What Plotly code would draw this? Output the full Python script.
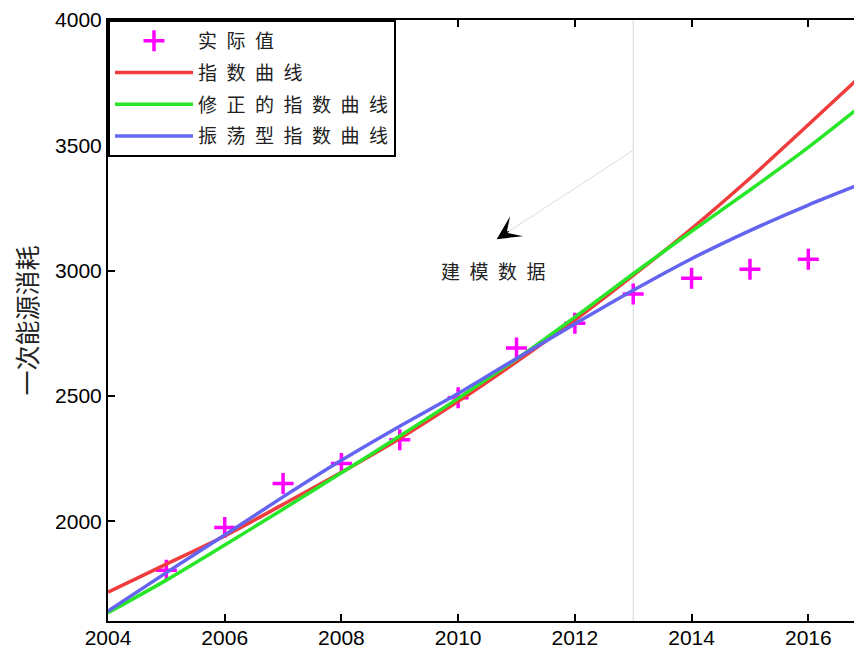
import plotly.graph_objects as go

# ---- data ----
years_actual = [2005, 2006, 2007, 2008, 2009, 2010, 2011, 2012, 2013, 2014, 2015, 2016, 2017]
actual = [1805, 1976, 2151, 2231, 2326, 2493, 2692, 2791, 2907, 2970, 3006, 3046, 3130]

years_curve = [2004, 2005, 2006, 2007, 2008, 2009, 2010, 2011, 2012, 2013, 2014, 2015, 2016, 2017]
exp_curve = [1718, 1830, 1942, 2068, 2196, 2331, 2479, 2637, 2803, 2981, 3168, 3369, 3582, 3798]
mod_exp_curve = [1636, 1766, 1906, 2049, 2194, 2341, 2491, 2648, 2815, 2988, 3157, 3322, 3492, 3675]
osc_exp_curve = [1643, 1796, 1946, 2098, 2244, 2380, 2510, 2650, 2788, 2922, 3048, 3160, 3262, 3355]

SP = "\u2002"
series_names = [SP.join("实际值"), SP.join("指数曲线"), SP.join("修正的指数曲线"), SP.join("振荡型指数曲线")]
y_title = "一次能源消耗"
note_text = SP.join("建模数据")
split_year = 2013
arrow_tail = (2013, 3480)
arrow_head = (2010.66, 3126)
note_pos = (2010.6, 3002)

x_ticks = [2004, 2006, 2008, 2010, 2012, 2014, 2016]
y_ticks = [2000, 2500, 3000, 3500, 4000]
x_range = [2004, 2016.92]
y_range = [1603, 4000]

RED = "rgb(240,60,60)"
GREEN = "rgb(40,230,40)"
BLUE = "rgb(100,100,240)"
MAGENTA = "rgb(255,0,255)"
CJK = "Noto Sans CJK SC"

fig = go.Figure()
fig.add_trace(go.Scatter(x=years_actual, y=actual, mode="markers", name=series_names[0],
                         legendgroup="a", cliponaxis=False,
                         marker=dict(symbol="cross-thin", size=15, color=MAGENTA,
                                     line=dict(color=MAGENTA, width=3.5))))
fig.add_trace(go.Scatter(x=years_curve, y=exp_curve, mode="lines", name=series_names[1],
                         legendgroup="b",
                         line=dict(color=RED, width=3.5, shape="spline", smoothing=0.8)))
fig.add_trace(go.Scatter(x=years_curve, y=mod_exp_curve, mode="lines", name=series_names[2],
                         legendgroup="c",
                         line=dict(color=GREEN, width=3.5, shape="spline", smoothing=0.8)))
fig.add_trace(go.Scatter(x=years_curve, y=osc_exp_curve, mode="lines", name=series_names[3],
                         legendgroup="d",
                         line=dict(color=BLUE, width=3.5, shape="spline", smoothing=0.8)))

# vertical split line
fig.add_shape(type="line", xref="x", yref="paper", x0=split_year, x1=split_year, y0=0, y1=1,
              line=dict(color="rgb(215,215,215)", width=1), layer="below")
# arrow line (grey) and head (black)
fig.add_shape(type="line", xref="x", yref="y", x0=arrow_tail[0], y0=arrow_tail[1],
              x1=arrow_head[0], y1=arrow_head[1], line=dict(color="rgb(220,220,220)", width=1))
dx = arrow_tail[0] - arrow_head[0]
dy = arrow_tail[1] - arrow_head[1]
fig.add_annotation(x=arrow_head[0], y=arrow_head[1], ax=arrow_head[0] + dx * 0.1,
                   ay=arrow_head[1] + dy * 0.1, xref="x", yref="y", axref="x", ayref="y",
                   showarrow=True, arrowhead=3, arrowsize=3.3, arrowwidth=1.2,
                   arrowcolor="black", text="")
fig.add_annotation(x=note_pos[0], y=note_pos[1], xref="x", yref="y", text=note_text,
                   showarrow=False, font=dict(family=CJK, size=19, color="#222"))

# page body adds an 8px offset, so the figure is sized to end at the window edge
fig.update_layout(
    width=854, height=642,
    margin=dict(l=100, r=0, t=12, b=29, autoexpand=False),
    paper_bgcolor="white", plot_bgcolor="white",
    font=dict(family="Liberation Sans, Arial", size=21, color="black"),
    showlegend=True,
    legend=dict(x=0, y=1, xanchor="left", yanchor="top", bgcolor="white",
                bordercolor="black", borderwidth=2,
                font=dict(family=CJK, size=19, color="#222"),
                itemwidth=78, tracegroupgap=4),
)
fig.update_xaxes(range=x_range, tickvals=x_ticks, ticks="inside", ticklen=7, tickwidth=1.5,
                 tickcolor="black", showline=True, linecolor="black", linewidth=2,
                 mirror="ticks", showgrid=False, zeroline=False, automargin=False,
                 ticklabelstandoff=-3,
                 tickfont=dict(family="Liberation Sans, Arial", size=21))
fig.update_yaxes(range=y_range, tickvals=y_ticks, ticks="inside", ticklen=7, tickwidth=1.5,
                 tickcolor="black", showline=True, linecolor="black", linewidth=2,
                 mirror=False, showgrid=False, zeroline=False, automargin=False,
                 title=dict(text=y_title, font=dict(family=CJK, size=25, color="#222")),
                 tickfont=dict(family="Liberation Sans, Arial", size=21))

fig.write_html("out.html")
